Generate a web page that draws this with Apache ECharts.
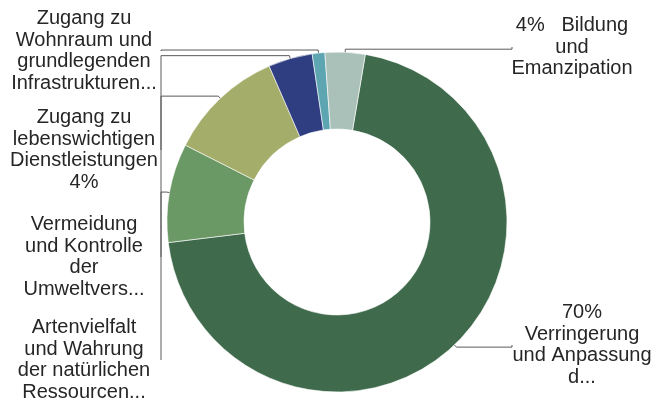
<!DOCTYPE html>
<html>
<head>
<meta charset="utf-8">
<script src="https://cdn.jsdelivr.net/npm/echarts@6/dist/echarts.min.js"></script>
<style>html,body{margin:0;padding:0;background:#fff}#c{width:667px;height:410px}</style>
</head>
<body>
<div id="c"></div>
<script>
// ---- data ----
const categories = [
  'Verringerung und Anpassung des Klimawandels',
  'Artenvielfalt und Wahrung der natürlichen Ressourcen',
  'Vermeidung und Kontrolle der Umweltverschmutzung',
  'Zugang zu lebenswichtigen Dienstleistungen',
  'Zugang zu Wohnraum und grundlegenden Infrastrukturen',
  'Bildung und Emanzipation'
];
const values = [70.4, 9.4, 11.0, 4.2, 1.2, 3.8];
const labelTexts = [
  '{p}%\nVerringerung\nund Anpassung\nd...',
  'Artenvielfalt\nund Wahrung\nder natürlichen\nRessourcen...',
  'Vermeidung\nund Kontrolle\nder\nUmweltvers...',
  'Zugang zu\nlebenswichtigen\nDienstleistungen\n{p}%',
  'Zugang zu\nWohnraum und\ngrundlegenden\nInfrastrukturen...',
  '{p}%   Bildung\nund\nEmanzipation'
];

// ---- styles / layout ----
const colors = ['#3f6a4c', '#6b9966', '#a4ad6a', '#2f3e80', '#5ea5b2', '#a9c1b8'];
const CX = 337, CY = 222, R_IN = 93, R_OUT = 170;
const labelAnchors = [
  { x: 582, y: 345, lineX: 512 },
  { x: 84, y: 360, lineX: 161 },
  { x: 84, y: 257, lineX: 161 },
  { x: 84, y: 150, lineX: 161 },
  { x: 84, y: 51, lineX: 161 },
  { x: 572, y: 47, lineX: 512 }
];

const chart = echarts.init(document.getElementById('c'), null, { renderer: 'canvas' });
chart.setOption({
  animation: false,
  series: [{
    type: 'pie',
    center: [CX, CY],
    radius: [R_IN, R_OUT],
    startAngle: 80.4,
    clockwise: true,
    avoidLabelOverlap: false,
    color: colors,
    itemStyle: { borderColor: '#ffffff', borderWidth: 0.6 },
    emphasis: { disabled: true },
    data: categories.map((n, i) => ({ name: n, value: values[i] })),
    label: {
      show: true,
      position: 'outside',
      width: 190,
      fontFamily: 'Liberation Sans, Arial, sans-serif',
      fontSize: 20,
      lineHeight: 21.5,
      color: '#262626',
      formatter: p => labelTexts[p.dataIndex].replace('{p}', Math.round(p.percent))
    },
    labelLine: {
      show: true,
      length: 10,
      length2: 10,
      lineStyle: { color: '#5a5a5a', width: 1 }
    },
    labelLayout: function (params) {
      const a = labelAnchors[params.dataIndex];
      const p = params.labelLinePoints[0];
      let dx = p[0] - CX, dy = p[1] - CY;
      const len = Math.sqrt(dx * dx + dy * dy);
      dx /= len; dy /= len;
      const p0 = [CX + dx * (R_OUT - 18), CY + dy * (R_OUT - 18)];
      const p1 = [CX + dx * (R_OUT + 3), CY + dy * (R_OUT + 3)];
      const pts = [p0, p1, [a.lineX, p1[1]], [a.lineX, a.y]];
      return {
        x: a.x,
        y: a.y,
        align: 'center',
        verticalAlign: 'middle',
        labelLinePoints: pts
      };
    }
  }]
});
</script>
</body>
</html>
